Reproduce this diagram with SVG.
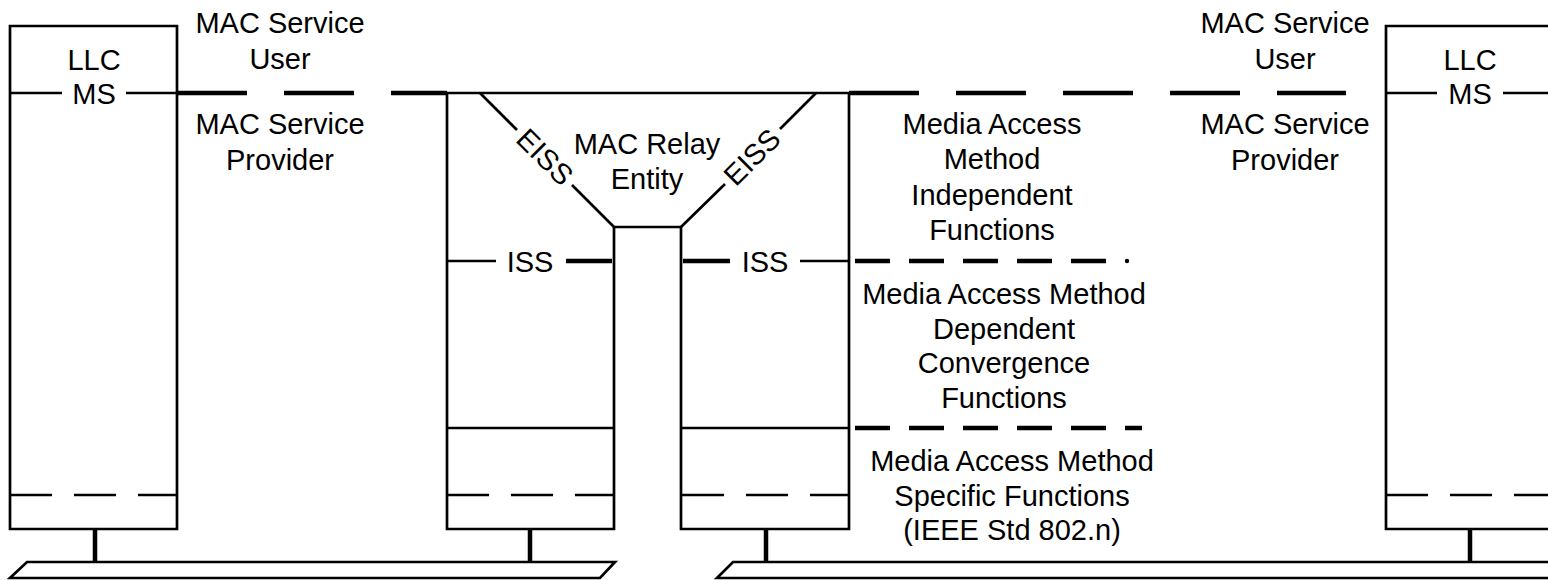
<svg xmlns="http://www.w3.org/2000/svg" width="1548" height="580" viewBox="0 0 1548 580">
<style>
.thin{stroke:#000;stroke-width:2.7;fill:none;stroke-linecap:butt}
.thick{stroke:#000;stroke-width:4.5;fill:none;stroke-linecap:round}
.stem{stroke:#000;stroke-width:4.5;fill:none}
.dsh{stroke:#000;stroke-width:2.7;fill:none;stroke-dasharray:42 22}
.lbl{font-family:"Liberation Sans",Arial,sans-serif;font-size:29px;fill:#000;text-anchor:middle}
</style>
<rect width="1548" height="580" fill="#fff"/>
<g id="llc-left">
<path class="thin" d="M10,529 V26 H177 V529 Z"/>
<path class="thin" d="M10,93 H62 M126,93 H177"/>
<path class="dsh" d="M10,495 H178"/>
<text class="lbl" x="94" y="70">LLC</text>
<text class="lbl" x="94" y="104">MS</text>
</g>
<g id="relay">
<path class="thin" d="M447,93 H849"/>
<path class="thin" d="M447,93 V529 H614 V227 H681 V529 H849 V93"/>
<path class="thin" d="M480,93 L517,130 M572,185 L614,227"/>
<path class="thin" d="M816,93 L780,129 M725,184 L681,227"/>
<path class="thin" d="M447,428 H614 M681,428 H849"/>
<path class="dsh" d="M447,495 H614 M682,495 H849"/>
<path class="thin" d="M447,261 H496 M800,261 H849"/>
<path class="thick" d="M566,261 H612 M683,261 H730" style="stroke-linecap:butt"/>
<text class="lbl" x="530" y="272">ISS</text>
<text class="lbl" x="765" y="272">ISS</text>
<text class="lbl" x="647" y="154">MAC Relay</text>
<text class="lbl" x="647" y="189">Entity</text>
<text class="lbl" transform="translate(545,157) rotate(45)" y="10">EISS</text>
<text class="lbl" transform="translate(752,157) rotate(-45)" y="10">EISS</text>
</g>
<g id="llc-right">
<path class="thin" d="M1560,26 H1386 V529 H1560"/>
<path class="thin" d="M1386,93 H1437 M1503,93 H1548"/>
<path class="dsh" d="M1386,495 H1548"/>
<text class="lbl" x="1470" y="70">LLC</text>
<text class="lbl" x="1470" y="104">MS</text>
</g>
<g id="labels">
<text class="lbl" x="280" y="33">MAC Service</text>
<text class="lbl" x="280" y="69">User</text>
<text class="lbl" x="280" y="134">MAC Service</text>
<text class="lbl" x="280" y="170">Provider</text>
<text class="lbl" x="1285" y="33">MAC Service</text>
<text class="lbl" x="1285" y="69">User</text>
<text class="lbl" x="1285" y="134">MAC Service</text>
<text class="lbl" x="1285" y="170">Provider</text>
<text class="lbl" x="992" y="134">Media Access</text>
<text class="lbl" x="992" y="169">Method</text>
<text class="lbl" x="992" y="205">Independent</text>
<text class="lbl" x="992" y="240">Functions</text>
<text class="lbl" x="1004" y="304">Media Access Method</text>
<text class="lbl" x="1004" y="339">Dependent</text>
<text class="lbl" x="1004" y="373">Convergence</text>
<text class="lbl" x="1004" y="408">Functions</text>
<text class="lbl" x="1012" y="471">Media Access Method</text>
<text class="lbl" x="1012" y="506">Specific Functions</text>
<text class="lbl" x="1012" y="540">(IEEE Std 802.n)</text>
</g>
<g id="media">
<path class="thin" d="M27,562 H615 L600,578 H10 Z"/>
<path class="thin" d="M733,562 H1565 L1550,578 H717 Z"/>
</g>
<g id="connectors">
<path class="thick" d="M177,93 H447" style="stroke-dasharray:70 37;stroke-linecap:butt"/>
<path class="thick" d="M849,93 H1346" style="stroke-dasharray:70 37;stroke-linecap:butt"/>
<path class="thick" d="M855,261 H1108" style="stroke-dasharray:35 19;stroke-linecap:butt"/>
<circle cx="1127" cy="261" r="2.2" fill="#000"/>
<path class="thick" d="M855,428 H1142" style="stroke-dasharray:35 19;stroke-linecap:butt"/>
<path class="stem" d="M95,529 V562 M530,529 V562 M766,529 V562 M1470,529 V562"/>
</g>
</svg>
